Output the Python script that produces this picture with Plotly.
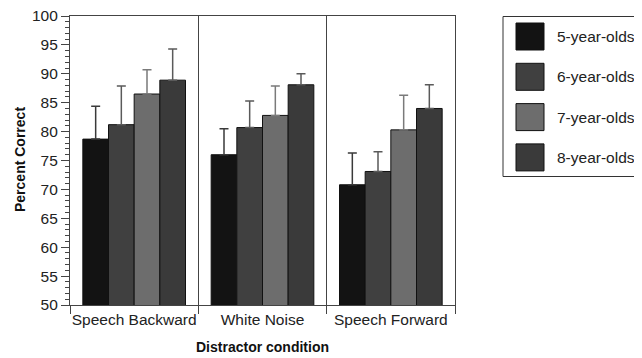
import plotly.graph_objects as go

conditions = ["Speech Backward", "White Noise", "Speech Forward"]
groups = ["5-year-olds", "6-year-olds", "7-year-olds", "8-year-olds"]

mean_5 = [78.7, 76.0, 70.8]
mean_6 = [81.2, 80.7, 73.1]
mean_7 = [86.5, 82.8, 80.3]
mean_8 = [88.9, 88.1, 84.0]

err_5 = [5.7, 4.5, 5.5]
err_6 = [6.7, 4.6, 3.4]
err_7 = [4.2, 5.1, 6.0]
err_8 = [5.4, 1.9, 4.1]

means = [mean_5, mean_6, mean_7, mean_8]
errs = [err_5, err_6, err_7, err_8]
colors = ["#131313", "#404040", "#6d6d6d", "#3a3a3a"]
err_colors = ["#3a3a3a", "#5a5a5a", "#7a7a7a", "#5a5a5a"]

FONT = "Liberation Sans, Arial, sans-serif"
OFF = 8  # default page body margin
W, H = 642 - OFF, 358 - OFF
PL, PR, PT, PB = 70, 455, 16, 305  # plot area in window pixels
ML, MR, MT, MB = PL - OFF, W - (PR - OFF), PT - OFF, H - (PB - OFF)

fig = go.Figure()
for g, m, e, c, ec in zip(groups, means, errs, colors, err_colors):
    fig.add_trace(go.Bar(
        x=conditions, y=m, name=g,
        marker=dict(color=c, line=dict(color="#111111", width=1)),
        error_y=dict(type="data", array=e, symmetric=False, arrayminus=[0] * len(e),
                     color=ec, thickness=1.5, width=4.5),
        showlegend=False,
    ))

# manual legend (paper coords derived from window pixels)
def px_x(p):
    return (p - PL) / (PR - PL)

def px_y(p):
    return (PB - p) / (PB - PT)

shapes = [dict(type="rect", xref="paper", yref="paper",
               x0=px_x(503), x1=px_x(640), y0=px_y(176.5), y1=px_y(16.5),
               line=dict(color="#333333", width=1), fillcolor="white")]
annotations = []
for i, (g, c) in enumerate(zip(groups, colors)):
    cy = 36.5 + i * 40.3
    shapes.append(dict(type="rect", xref="paper", yref="paper",
                       x0=px_x(516), x1=px_x(544), y0=px_y(cy + 13.5), y1=px_y(cy - 13.5),
                       line=dict(color="#111111", width=1), fillcolor=c))
    annotations.append(dict(x=px_x(555), y=px_y(cy), xref="paper", yref="paper",
                            text=g, showarrow=False, xanchor="left", yanchor="middle",
                            font=dict(family=FONT, size=15.5, color="#222222")))

# axis titles as annotations for precise placement
annotations.append(dict(x=px_x(262), y=px_y(347), xref="paper", yref="paper",
                        text="<b>Distractor condition</b>", showarrow=False,
                        xanchor="center", yanchor="middle",
                        font=dict(family=FONT, size=14, color="#111111")))
annotations.append(dict(x=px_x(20), y=px_y(160), xref="paper", yref="paper",
                        text="<b>Percent Correct</b>", showarrow=False, textangle=-90,
                        xanchor="center", yanchor="middle",
                        font=dict(family=FONT, size=14, color="#111111")))

fig.update_layout(
    width=W, height=H,
    margin=dict(l=ML, r=MR, t=MT, b=MB, autoexpand=False),
    paper_bgcolor="white", plot_bgcolor="white",
    barmode="group", bargap=0.2, bargroupgap=0.0,
    font=dict(family=FONT, size=15, color="#222222"),
    shapes=shapes, annotations=annotations,
    xaxis=dict(
        type="category", tickson="boundaries", ticks="outside", ticklen=8,
        tickangle=0, automargin=False, ticklabeloverflow="allow",
        tickcolor="#444444", showline=True, linecolor="#444444", linewidth=1.2,
        mirror=True, showgrid=True, gridcolor="#444444", gridwidth=1.2,
        tickfont=dict(family=FONT, size=15.5, color="#222222"),
    ),
    yaxis=dict(
        range=[50, 100], dtick=5, ticks="outside", ticklen=8, tickcolor="#444444",
        automargin=False, ticklabeloverflow="allow",
        showline=True, linecolor="#444444", linewidth=1.2, mirror=True,
        showgrid=False, zeroline=False,
        minor=dict(dtick=1, ticks="outside", ticklen=4, tickcolor="#444444"),
        tickfont=dict(family=FONT, size=15.5, color="#222222"),
    ),
)

fig.write_html("out.html")
